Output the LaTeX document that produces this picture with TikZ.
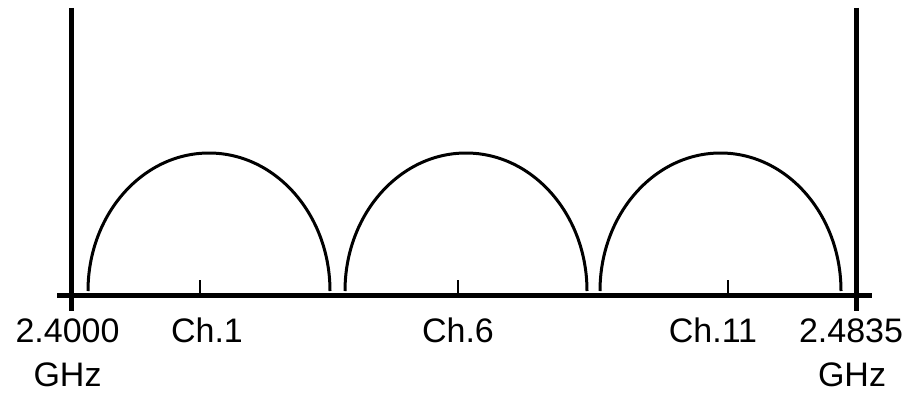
\documentclass[tikz,border=0pt]{standalone}
\usepackage{fontspec}
\setmainfont{Liberation Sans}
\begin{document}
\begin{tikzpicture}[x=1pt,y=1pt,
  bar/.style={line width=5pt},
  axisline/.style={line width=5pt},
  lobe/.style={line width=3pt},
  tickmark/.style={line width=2.5pt},
  lbl/.style={anchor=base,inner sep=0pt,font=\fontsize{34}{40}\selectfont}]
\useasboundingbox (0,0) rectangle (913,392);
% vertical band limits
\coordinate (lt) at (71,384); \coordinate (lb) at (71,81);
\coordinate (rt) at (856,384); \coordinate (rb) at (856,81);
\draw[bar] (lt) -- (lb);
\draw[bar] (rt) -- (rb);
% axis
\coordinate (al) at (57,97); \coordinate (ar) at (872,97);
\draw[axisline] (al) -- (ar);
% channel lobes
\draw[lobe] (88,101) arc[start angle=180,end angle=0,x radius=121,y radius=138];
\draw[lobe] (345,101) arc[start angle=180,end angle=0,x radius=121,y radius=138];
\draw[lobe] (600,101) arc[start angle=180,end angle=0,x radius=120.5,y radius=138];
% ticks
\foreach \t/\xx in {t1/200,t6/458,t11/728}{
  \coordinate (\t) at (\xx,112);
  \draw[tickmark] (\t) -- (\xx,97);
}
% labels
\node[lbl] (f1) at (67.5,50) {2.4000};
\node[lbl] (g1) at (67.5,6) {GHz};
\node[lbl] (c1) at (207,50) {Ch.1};
\node[lbl] (c6) at (458,50) {Ch.6};
\node[lbl] (c11) at (713,50) {Ch.11};
\node[lbl] (f2) at (851,50) {2.4835};
\node[lbl] (g2) at (852,6) {GHz};
\end{tikzpicture}
\end{document}
